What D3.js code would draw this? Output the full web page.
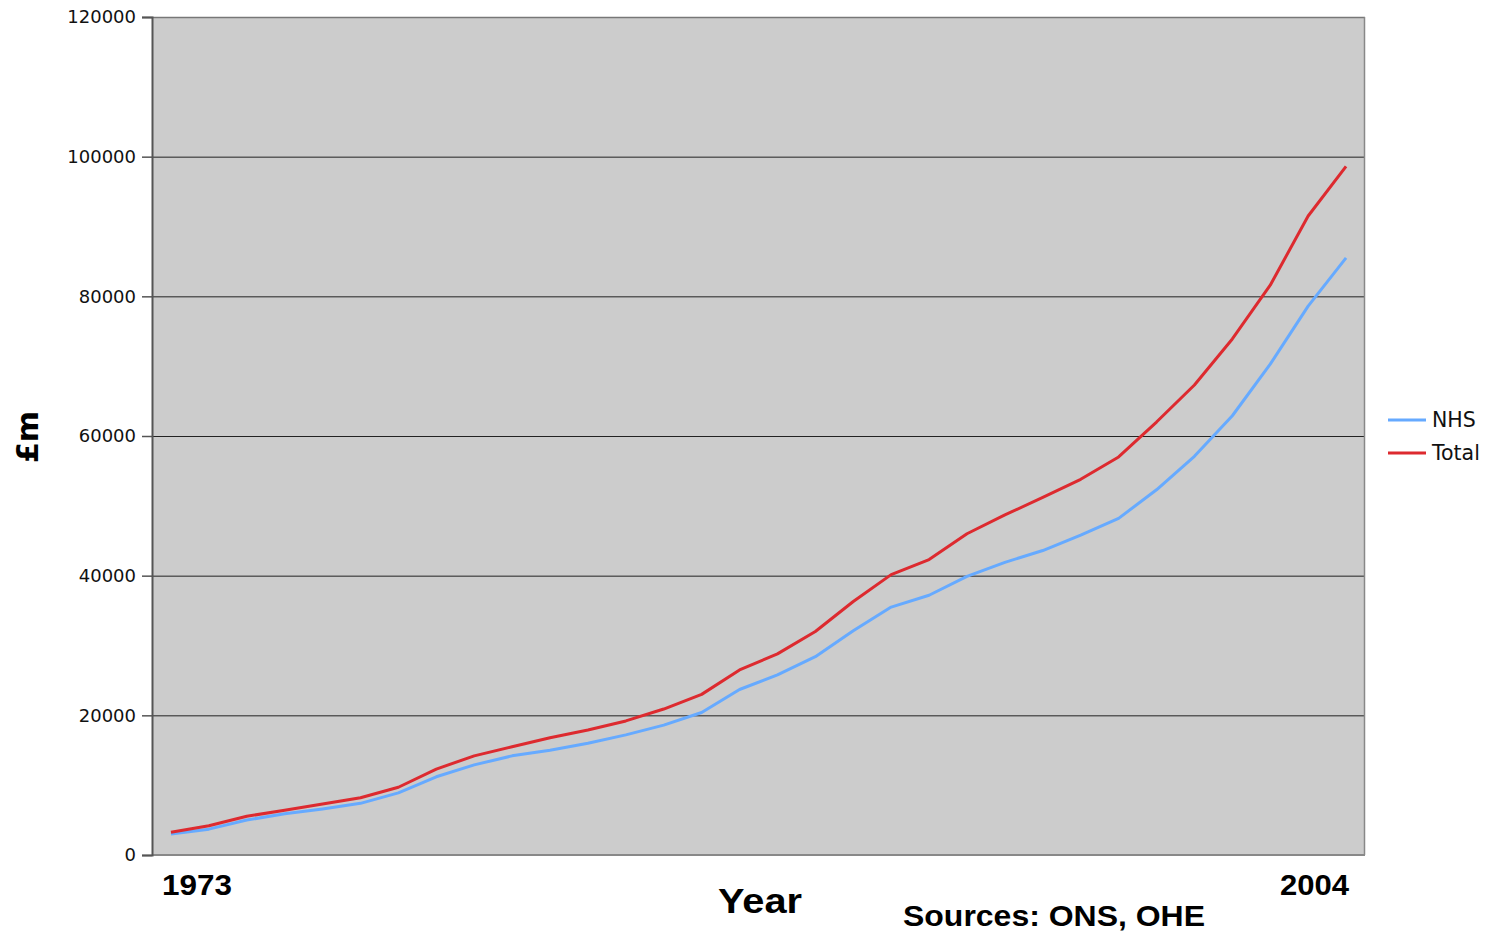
<!DOCTYPE html>
<html><head><meta charset="utf-8">
<script src="https://cdn.jsdelivr.net/npm/d3@7"></script>
<style>body{margin:0;background:#fff}svg{display:block}</style>
</head><body>
<svg id="c" width="1493" height="934"></svg>
<script>
const years = d3.range(1973, 2005);
const nhs = [3000,3700,5000,5900,6600,7400,8900,11200,12900,14200,15000,16000,17200,18600,20400,23700,25800,28400,32100,35500,37200,39900,41900,43600,45800,48200,52300,57100,62900,70300,78600,85500];
const total = [3250,4200,5550,6400,7300,8200,9700,12300,14200,15500,16800,17900,19200,20900,23000,26500,28800,32000,36300,40150,42300,46000,48700,51200,53800,57000,62000,67300,73900,81600,91500,98600];
const yTicks = [0,20000,40000,60000,80000,100000,120000];
const seriesNames = ["NHS","Total"];
const colors = ["#66aaff","#dd2a2f"];

const svg = d3.select("#c");
const L=152,R=1365,T=17,B=855;
const x = d3.scalePoint().domain(years).range([L,R]).padding(0.5);
const y = d3.scaleLinear().domain([0,120000]).range([B,T]);

svg.append("rect").attr("x",L).attr("y",T).attr("width",R-L).attr("height",B-T).attr("fill","#cccccc");
// gridlines
svg.append("g").selectAll("line").data(yTicks.filter(v=>v>0&&v<120000)).join("line")
  .attr("x1",L).attr("x2",R).attr("y1",d=>y(d)+0.5).attr("y2",d=>y(d)+0.5)
  .attr("stroke","#222").attr("stroke-width",1);
// border
svg.append("line").attr("x1",L).attr("x2",R).attr("y1",T+0.5).attr("y2",T+0.5).attr("stroke","#777").attr("stroke-width",1.5);
svg.append("line").attr("x1",R-0.5).attr("x2",R-0.5).attr("y1",T).attr("y2",B).attr("stroke","#888").attr("stroke-width",1.5);
svg.append("line").attr("x1",L).attr("x2",R).attr("y1",B).attr("y2",B).attr("stroke","#888").attr("stroke-width",2);

// y axis
const yAxis = d3.axisLeft(y).tickValues(yTicks).tickSize(10).tickPadding(6).tickFormat(d3.format("d"));
const ga = svg.append("g").attr("transform",`translate(${L},0)`).call(yAxis);
ga.select(".domain").attr("stroke","#555").attr("stroke-width",2);
ga.selectAll(".tick line").attr("stroke","#555").attr("stroke-width",1.5);
ga.selectAll(".tick text").attr("font-family","DejaVu Sans").attr("font-size",18).attr("fill","#111");

// lines
const line = d3.line().x((d,i)=>x(years[i])).y(d=>y(d));
[nhs,total].forEach((s,k)=>{
  svg.append("path").datum(s).attr("d",line).attr("fill","none")
    .attr("stroke",colors[k]).attr("stroke-width",3).attr("stroke-linejoin","round");
});

// x labels
const bold = {"font-family":"Liberation Sans, Arial","font-weight":"bold","font-size":30,"fill":"#000"};
function txt(t,xx,yy,anchor,extra){const e=svg.append("text").text(t).attr("x",xx).attr("y",yy).attr("text-anchor",anchor);
  Object.entries(Object.assign({},bold,extra||{})).forEach(([k,v])=>e.attr(k,v));return e;}
txt(String(years[0]),L+10,895,"start",{"textLength":70,"lengthAdjust":"spacingAndGlyphs"});
txt(String(years[years.length-1]),R-16,895,"end",{"textLength":69,"lengthAdjust":"spacingAndGlyphs"});
txt("Year",760,913,"middle",{"font-size":35,"textLength":84,"lengthAdjust":"spacingAndGlyphs"});
txt("Sources: ONS, OHE",1054,926,"middle",{"textLength":302,"lengthAdjust":"spacingAndGlyphs"});
// y title
svg.append("text").text("£m").attr("transform","translate(38,437) rotate(-90)").attr("text-anchor","middle")
  .attr("font-family","DejaVu Sans").attr("font-weight","bold").attr("font-size",30).attr("fill","#000");

// legend
const lg = svg.append("g").attr("transform","translate(1388,420)");
seriesNames.forEach((n,i)=>{
  lg.append("line").attr("x1",0).attr("x2",38).attr("y1",i*33).attr("y2",i*33).attr("stroke",colors[i]).attr("stroke-width",3);
  lg.append("text").text(n).attr("x",44).attr("y",i*33+7).attr("font-family","DejaVu Sans").attr("font-size",20.5).attr("fill","#111");
});
</script>
</body></html>
